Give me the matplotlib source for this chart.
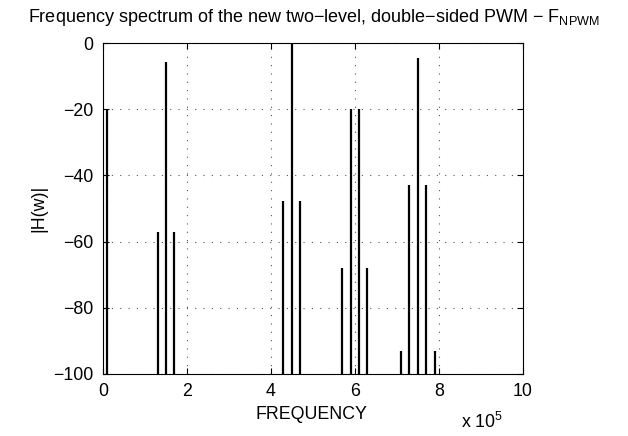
import matplotlib
matplotlib.use("Agg")
import matplotlib.pyplot as plt
from matplotlib.ticker import FuncFormatter

plt.rcParams['font.family'] = ['Liberation Sans', 'DejaVu Sans']

# Frequencies (Hz) and magnitudes (dB)
freqs = [0.1e5, 1.3e5, 1.5e5, 1.7e5, 4.3e5, 4.5e5, 4.7e5,
         5.7e5, 5.9e5, 6.1e5, 6.3e5, 7.1e5, 7.3e5, 7.5e5, 7.7e5, 7.9e5]
mags = [-20, -57, -5.7, -57, -47.8, 0, -47.8,
        -68, -20, -20, -68, -93, -43, -4.5, -43, -93]
xticks = [0, 2e5, 4e5, 6e5, 8e5, 10e5]
yticks = [0, -20, -40, -60, -80, -100]

W, H = 628, 436
fs = 12.8
fig = plt.figure(figsize=(W/100, H/100), dpi=100)
ax = fig.add_axes([103/W, 1-373.7/H, (522.7-103)/W, (373.7-43.3)/H])

ax.vlines(freqs, -100, mags, colors='black', linewidth=1.6)
ax.set_xlim(0, 10e5)
ax.set_ylim(-100, 0)
ax.set_xticks(xticks)
ax.set_yticks(yticks)
ax.xaxis.set_major_formatter(FuncFormatter(lambda v, p: f"{v/1e5:g}"))
ax.yaxis.set_major_formatter(FuncFormatter(lambda v, p: f"{v:g}".replace('-', '\u2212')))
ax.grid(True, linestyle=(0, (1, 6.5)), color='#555555', linewidth=0.8)
ax.tick_params(direction='in', top=True, right=True, labelsize=fs, length=4, pad=7)
for s in ax.spines.values():
    s.set_linewidth(0.8)

ax.set_ylabel('|H(w)|', fontsize=fs, labelpad=4)
fig.text(311/W, 1-419/H, 'FREQUENCY', fontsize=fs, ha='center', va='baseline')
fig.text(314/W, 1-22/H,
         'Frequency spectrum of the new two\u2212level, double\u2212sided PWM \u2212 F$_{\\mathregular{NPWM}}$',
         fontsize=13, ha='center', va='baseline')
fig.text(482/W, 1-428/H, 'x 10$^{\\mathregular{5}}$', fontsize=fs, ha='center', va='baseline')

fig.savefig('out.png', dpi=100)
